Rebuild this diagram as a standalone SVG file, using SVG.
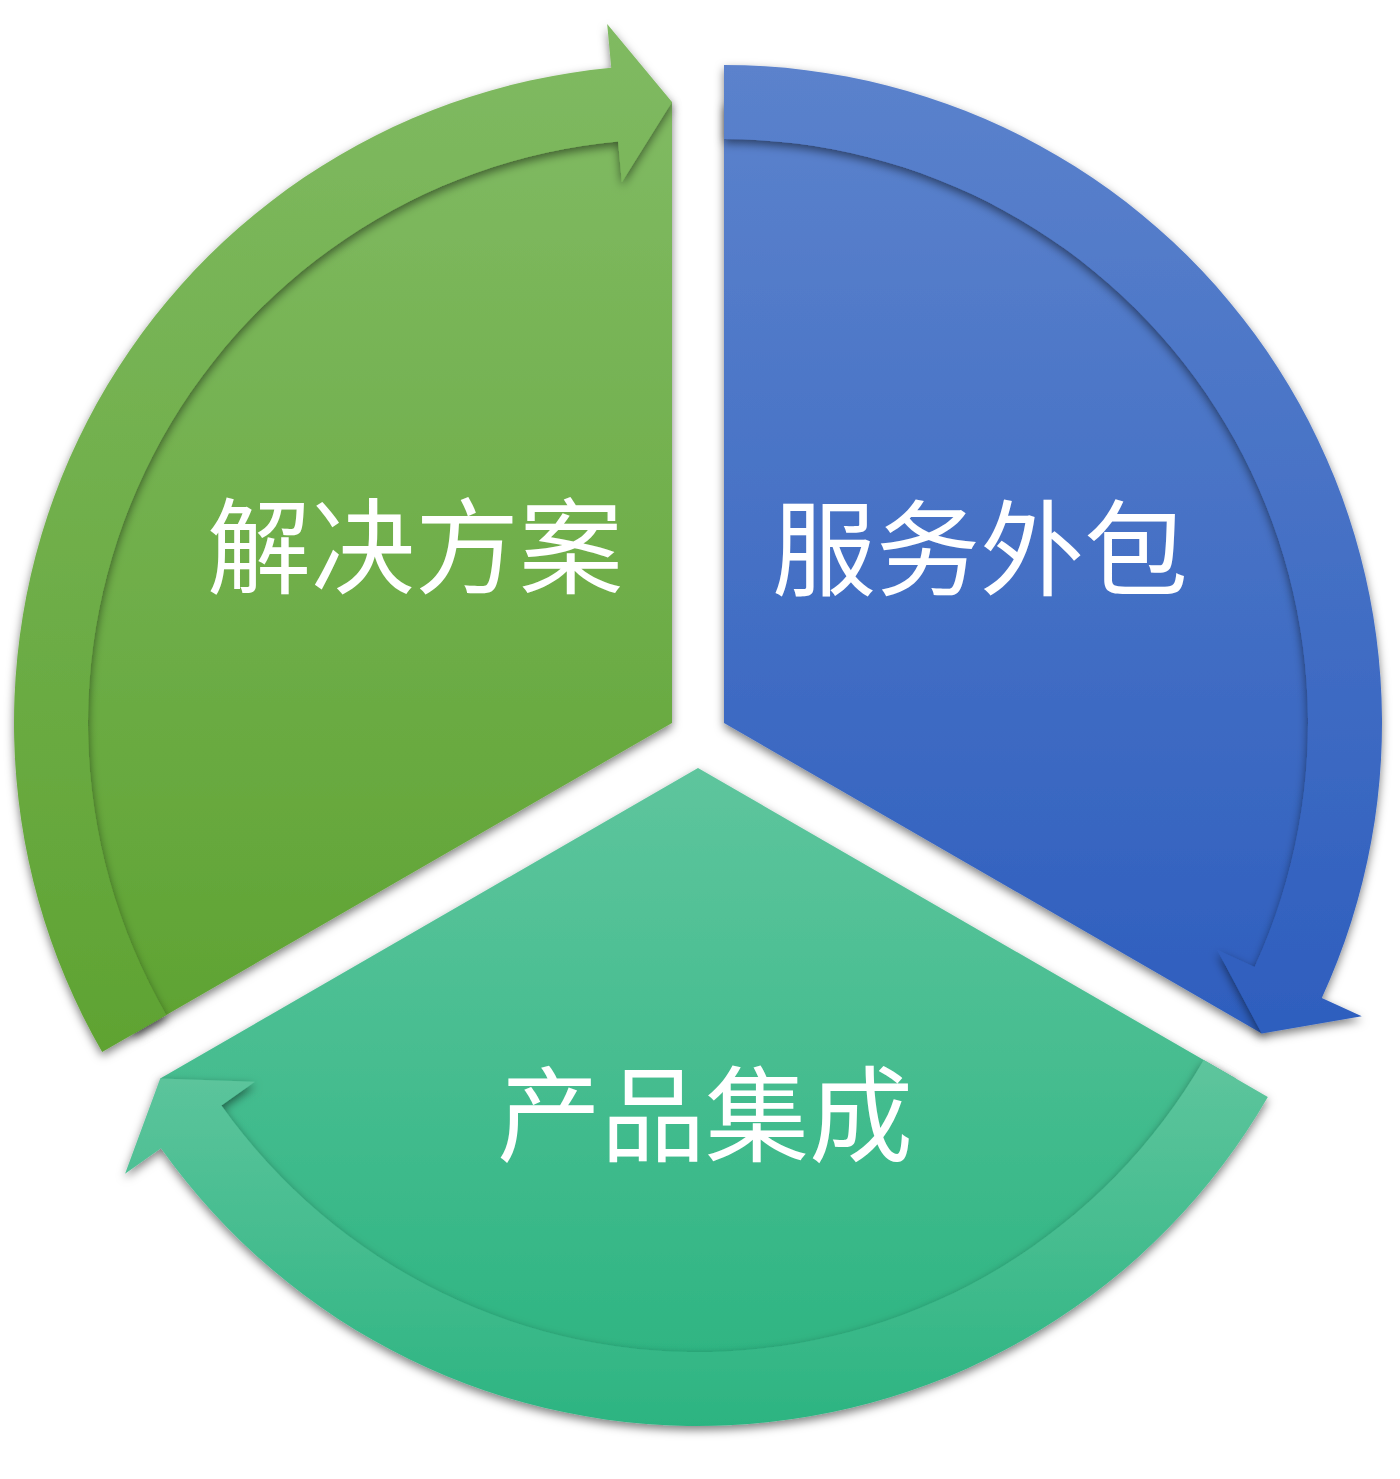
<svg xmlns="http://www.w3.org/2000/svg" width="1400" height="1479" viewBox="0 0 1400 1479">
<defs>
<linearGradient id="gGreen" x1="0" y1="0" x2="0" y2="1"><stop offset="0" stop-color="#80BA62"/><stop offset="1" stop-color="#5FA332"/></linearGradient>
<linearGradient id="gBlue" x1="0" y1="0" x2="0" y2="1"><stop offset="0" stop-color="#5B82CC"/><stop offset="1" stop-color="#2E5EBE"/></linearGradient>
<linearGradient id="gTeal" x1="0" y1="0" x2="0" y2="1"><stop offset="0" stop-color="#5EC59D"/><stop offset="1" stop-color="#2CB481"/></linearGradient>
<filter id="shadow" x="-10%" y="-10%" width="120%" height="120%">
<feDropShadow dx="0" dy="4" stdDeviation="5" flood-color="#000" flood-opacity="0.5"/>
</filter>
</defs>
<style>
.sh{filter:url(#shadow)}
.lbl{font-family:"Noto Sans CJK SC","Noto Sans CJK JP",sans-serif;font-size:104px;fill:#FFFFFF;text-anchor:middle}
</style>
<rect width="1400" height="1479" fill="#FFFFFF"/>
<g id="node-green">
<path class="sh" fill="url(#gGreen)" d="M672,723 L134.2,1033.5 A621,621 0 0 1 672,102 Z"/>
<path class="sh" fill="url(#gGreen)" d="M102.16,1052 A658,658 0 0 1 611.22,67.81 L607.16,24 L672,102 L621.84,182.32 L618.06,141.5 A584,584 0 0 0 166.24,1015 Z"/>
<text class="lbl" x="415" y="586">解决方案</text>
</g>
<g id="node-blue">
<path class="sh" fill="url(#gBlue)" d="M724,723 L724,102 A621,621 0 0 1 1261.8,1033.5 Z"/>
<path class="sh" fill="url(#gBlue)" d="M724,65 A658,658 0 0 1 1321.8,997.96 L1361.78,1016.35 L1261.8,1033.5 L1217.32,949.9 L1254.57,967.04 A584,584 0 0 0 724,139 Z"/>
<text class="lbl" x="980" y="588">服务外包</text>
</g>
<g id="node-teal">
<path class="sh" fill="url(#gTeal)" d="M698,768 L1235.8,1078.5 A621,621 0 0 1 160.2,1078.5 Z"/>
<path class="sh" fill="url(#gTeal)" d="M1267.84,1097 A658,658 0 0 1 160.98,1148.23 L125.07,1173.66 L160.2,1078.5 L254.83,1081.78 L221.37,1105.47 A584,584 0 0 0 1203.76,1060 Z"/>
<text class="lbl" x="705" y="1154">产品集成</text>
</g>
<g id="connectors"/>
</svg>
